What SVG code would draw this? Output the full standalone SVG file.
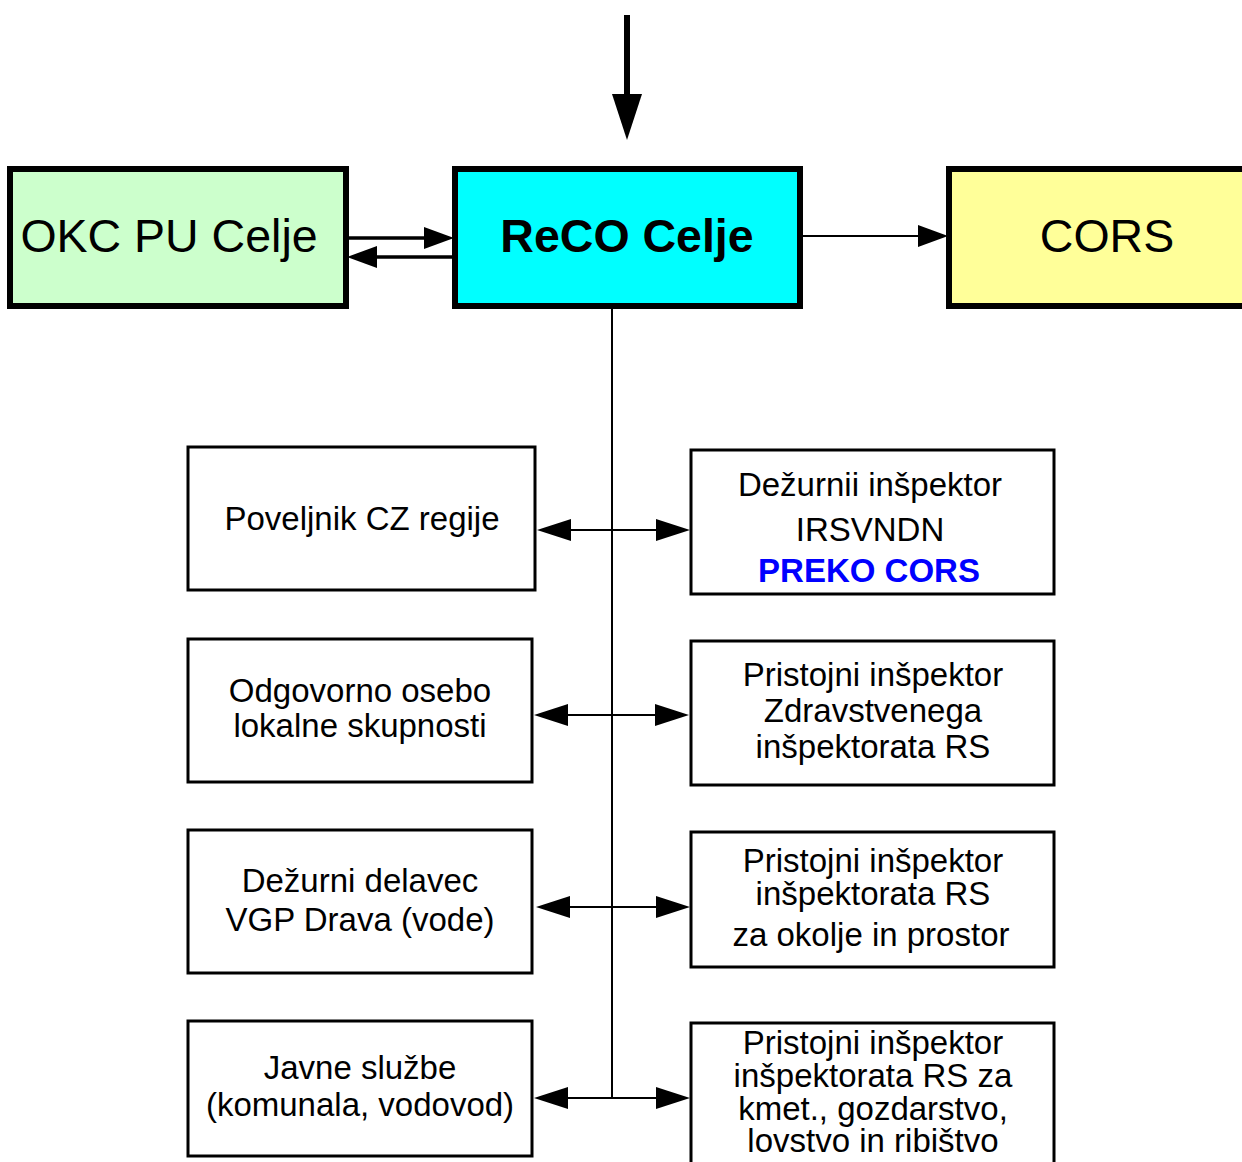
<svg xmlns="http://www.w3.org/2000/svg" width="1242" height="1162" viewBox="0 0 1242 1162">
<style>
.top{stroke:#000;stroke-width:6}
.box{fill:#fff;stroke:#000;stroke-width:3}
.t{font-family:"Liberation Sans",Arial,sans-serif;font-size:33px;text-anchor:middle;fill:#000}
.tb{font-family:"Liberation Sans",Arial,sans-serif;font-size:46.5px;text-anchor:middle;fill:#000}
.ln{stroke:#000;fill:none}
</style>
<defs>
<marker id="ah" markerUnits="userSpaceOnUse" markerWidth="34" markerHeight="22" refX="0" refY="11" orient="auto-start-reverse" overflow="visible"><path d="M0,0 L34,11 L0,22 Z" fill="#000"/></marker>
<marker id="ahBig" markerUnits="userSpaceOnUse" markerWidth="46" markerHeight="30" refX="0" refY="15" orient="auto" overflow="visible"><path d="M0,0 L46,15 L0,30 Z" fill="#000"/></marker>
<marker id="ahMed" markerUnits="userSpaceOnUse" markerWidth="30" markerHeight="22" refX="0" refY="11" orient="auto" overflow="visible"><path d="M0,0 L30,11 L0,22 Z" fill="#000"/></marker>
</defs>
<g id="connectors">
<line class="ln" x1="627" y1="15" x2="627" y2="94" stroke-width="6" marker-end="url(#ahBig)"/>
<line class="ln" x1="346" y1="238" x2="424" y2="238" stroke-width="3.5" marker-end="url(#ahMed)"/>
<line class="ln" x1="455" y1="257" x2="377" y2="257" stroke-width="3.5" marker-end="url(#ahMed)"/>
<line class="ln" x1="800" y1="236" x2="918" y2="236" stroke-width="2" marker-end="url(#ahMed)"/>
<line class="ln" x1="612" y1="306" x2="612" y2="1098" stroke-width="2"/>
<line class="ln" x1="571" y1="530" x2="656" y2="530" stroke-width="2" marker-start="url(#ah)" marker-end="url(#ah)"/>
<line class="ln" x1="568" y1="715" x2="655" y2="715" stroke-width="2" marker-start="url(#ah)" marker-end="url(#ah)"/>
<line class="ln" x1="570" y1="907" x2="656" y2="907" stroke-width="2" marker-start="url(#ah)" marker-end="url(#ah)"/>
<line class="ln" x1="568" y1="1098" x2="656" y2="1098" stroke-width="2" marker-start="url(#ah)" marker-end="url(#ah)"/>
</g>
<g id="okc">
<rect class="top" x="10" y="169" width="336" height="137" fill="#ccffcc"/>
<text class="tb" x="169" y="252">OKC PU Celje</text>
</g>
<g id="reco">
<rect class="top" x="455" y="169" width="345" height="137" fill="#00ffff"/>
<text class="tb" x="627" y="252" font-weight="bold">ReCO Celje</text>
</g>
<g id="cors">
<rect class="top" x="949" y="169" width="316" height="137" fill="#ffff99"/>
<text class="tb" x="1107" y="252">CORS</text>
</g>
<g id="poveljnik">
<rect class="box" x="188" y="447" width="347" height="143"/>
<text class="t" x="362" y="530">Poveljnik CZ regije</text>
</g>
<g id="odgovorno">
<rect class="box" x="188" y="639" width="344" height="143"/>
<text class="t" x="360" y="702">Odgovorno osebo</text>
<text class="t" x="360" y="737">lokalne skupnosti</text>
</g>
<g id="dezurni">
<rect class="box" x="188" y="830" width="344" height="143"/>
<text class="t" x="360" y="892">Dežurni delavec</text>
<text class="t" x="360" y="931">VGP Drava (vode)</text>
</g>
<g id="javne">
<rect class="box" x="188" y="1021" width="344" height="135"/>
<text class="t" x="360" y="1079">Javne službe</text>
<text class="t" x="360" y="1116">(komunala, vodovod)</text>
</g>
<g id="irsvndn">
<rect class="box" x="691" y="450" width="363" height="144"/>
<text class="t" x="870" y="496">Dežurnii inšpektor</text>
<text class="t" x="870" y="541">IRSVNDN</text>
<text class="t" x="869" y="582" font-weight="bold" style="fill:#0000ff">PREKO CORS</text>
</g>
<g id="zdravstveni">
<rect class="box" x="691" y="641" width="363" height="144"/>
<text class="t" x="873" y="686">Pristojni inšpektor</text>
<text class="t" x="873" y="722">Zdravstvenega</text>
<text class="t" x="873" y="758">inšpektorata RS</text>
</g>
<g id="okolje">
<rect class="box" x="691" y="832" width="363" height="135"/>
<text class="t" x="873" y="872">Pristojni inšpektor</text>
<text class="t" x="873" y="905">inšpektorata RS</text>
<text class="t" x="871" y="946">za okolje in prostor</text>
</g>
<g id="kmet">
<rect class="box" x="691" y="1023" width="363" height="150"/>
<text class="t" x="873" y="1054">Pristojni inšpektor</text>
<text class="t" x="873" y="1087">inšpektorata RS za</text>
<text class="t" x="873" y="1120">kmet., gozdarstvo,</text>
<text class="t" x="873" y="1152">lovstvo in ribištvo</text>
</g>
</svg>
